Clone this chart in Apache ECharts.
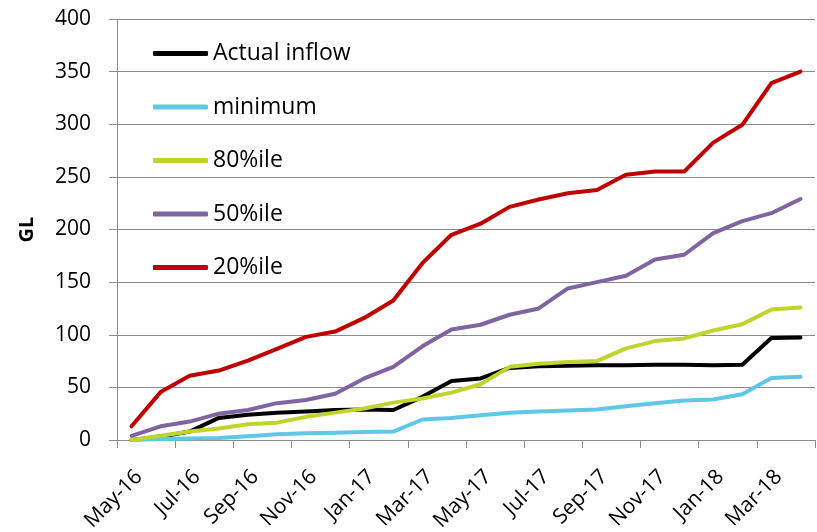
<!DOCTYPE html>
<html>
<head>
<meta charset="utf-8">
<script src="https://cdn.jsdelivr.net/npm/echarts@6/dist/echarts.min.js"></script>
<style>
  html, body { margin: 0; padding: 0; background: #fff; }
  #chart { width: 817px; height: 532px; }
</style>
</head>
<body>
<div id="chart"></div>
<script>
// Monthly categories, May 2016 to April 2018
const months = [
  'May-16', 'Jun-16', 'Jul-16', 'Aug-16', 'Sep-16', 'Oct-16', 'Nov-16', 'Dec-16',
  'Jan-17', 'Feb-17', 'Mar-17', 'Apr-17', 'May-17', 'Jun-17', 'Jul-17', 'Aug-17',
  'Sep-17', 'Oct-17', 'Nov-17', 'Dec-17', 'Jan-18', 'Feb-18', 'Mar-18', 'Apr-18'
];

// Cumulative inflow (GL)
const actualInflow = [0, 3, 8, 21, 24, 26, 27, 28.5, 29, 28.5, 41, 56, 58.5, 68.5, 70, 70.5, 71, 71, 71.5, 71.5, 71, 71.5, 97, 97.5];
const minimum      = [0, 1, 1.5, 2, 3.5, 5.5, 6.5, 7, 7.5, 8, 19.5, 21, 23.5, 26, 27, 28, 29, 32, 35, 37.5, 38.5, 43.5, 59, 60];
const pct80        = [0, 4, 8, 11, 15, 16.5, 22, 26, 30, 35.5, 39.5, 45, 53, 69.5, 72.5, 74, 75, 87, 94, 96.5, 104, 110, 124, 126];
const pct50        = [4, 13, 17.5, 25, 28.5, 35, 38, 44, 58.5, 69.5, 89, 105, 109.5, 119, 125, 144, 150, 156, 171.5, 176, 196.5, 208, 215.5, 229];
const pct20        = [13, 45.5, 61, 66, 75.5, 86.5, 98, 103, 116, 132.5, 168, 195, 205.5, 221.5, 228.5, 234.5, 237.5, 252, 255, 255, 282.5, 299.5, 339, 350];

const seriesNames = ['Actual inflow', 'minimum', '80%ile', '50%ile', '20%ile'];
const seriesData = [actualInflow, minimum, pct80, pct50, pct20];
const seriesColors = ['#000000', '#5ec8e6', '#bfd52f', '#8064a2', '#c00000'];

const FONT = 'Open Sans';
const AXIS_GREY = '#8c8c8c';

const chart = echarts.init(document.getElementById('chart'), null, { renderer: 'canvas' });

chart.setOption({
  animation: false,
  backgroundColor: '#ffffff',
  grid: { left: 117, right: 2, top: 19, bottom: 92, containLabel: false, outerBoundsMode: 'none' },
  legend: {
    orient: 'vertical',
    left: 153,
    top: 42,
    padding: 0,
    itemWidth: 55,
    itemHeight: 5,
    itemGap: 30.5,
    icon: 'roundRect',
    textStyle: { fontFamily: FONT, fontSize: 23, color: '#000', lineHeight: 22 },
    data: seriesNames
  },
  xAxis: {
    type: 'category',
    data: months,
    boundaryGap: true,
    axisLine: { lineStyle: { color: AXIS_GREY, width: 1 } },
    axisTick: { show: true, interval: 1, length: 8, lineStyle: { color: AXIS_GREY } },
    axisLabel: {
      interval: 1,
      rotate: 45,
      margin: 26,
      verticalAlign: 'top',
      fontFamily: FONT,
      fontSize: 21,
      color: '#000'
    },
    splitLine: { show: false }
  },
  yAxis: {
    type: 'value',
    min: 0,
    max: 400,
    interval: 50,
    name: 'GL',
    nameLocation: 'middle',
    nameRotate: 90,
    nameGap: 80,
    nameTextStyle: { fontFamily: FONT, fontSize: 20, fontWeight: 'bold', color: '#000' },
    axisLine: { show: true, lineStyle: { color: AXIS_GREY, width: 1 } },
    axisTick: { show: true, inside: false, length: 8, lineStyle: { color: AXIS_GREY } },
    axisLabel: { margin: 26, fontFamily: FONT, fontSize: 21, color: '#000' },
    splitLine: { show: true, lineStyle: { color: AXIS_GREY, width: 1 } }
  },
  series: seriesNames.map((name, i) => ({
    name: name,
    type: 'line',
    data: seriesData[i],
    showSymbol: false,
    symbol: 'none',
    lineStyle: { color: seriesColors[i], width: 4, cap: 'round', join: 'round' },
    itemStyle: { color: seriesColors[i] }
  }))
});
</script>
</body>
</html>
